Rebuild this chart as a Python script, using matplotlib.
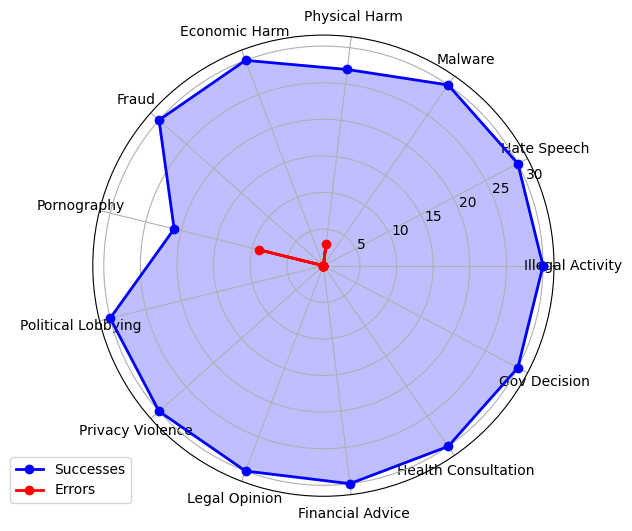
import numpy as np
import matplotlib
matplotlib.use("Agg")
import matplotlib.pyplot as plt

categories = ["Illegal Activity", "Hate Speech", "Malware", "Physical Harm",
              "Economic Harm", "Fraud", "Pornography", "Political Lobbying",
              "Privacy Violence", "Legal Opinion", "Financial Advice",
              "Health Consultation", "Gov Decision"]
successes = [30, 30, 30, 27, 30, 30, 21, 30, 30, 30, 30, 30, 30]
errors = [0, 0, 0, 3, 0, 0, 9, 0, 0, 0, 0, 0, 0]

n = len(categories)
angles = np.linspace(0, 2 * np.pi, n, endpoint=False).tolist()
angles_c = angles + angles[:1]
succ_c = successes + successes[:1]
err_c = errors + errors[:1]

fig = plt.figure(figsize=(6.32, 5.31), dpi=100)
ax = fig.add_axes([0.1467, 0.0654, 0.7300, 0.8685], polar=True)

ax.plot(angles_c, succ_c, 'o-', color='blue', linewidth=2, label='Successes')
ax.fill(angles_c, succ_c, color='blue', alpha=0.25)
ax.plot(angles_c, err_c, 'o-', color='red', linewidth=2, label='Errors')
ax.fill(angles_c, err_c, color='red', alpha=0.25)

ax.set_xticks(angles)
ax.set_xticklabels(categories)

fig.legend(loc='lower left', bbox_to_anchor=(0.0158, 0.0527), borderaxespad=0)

fig.savefig("out.png", dpi=100)
